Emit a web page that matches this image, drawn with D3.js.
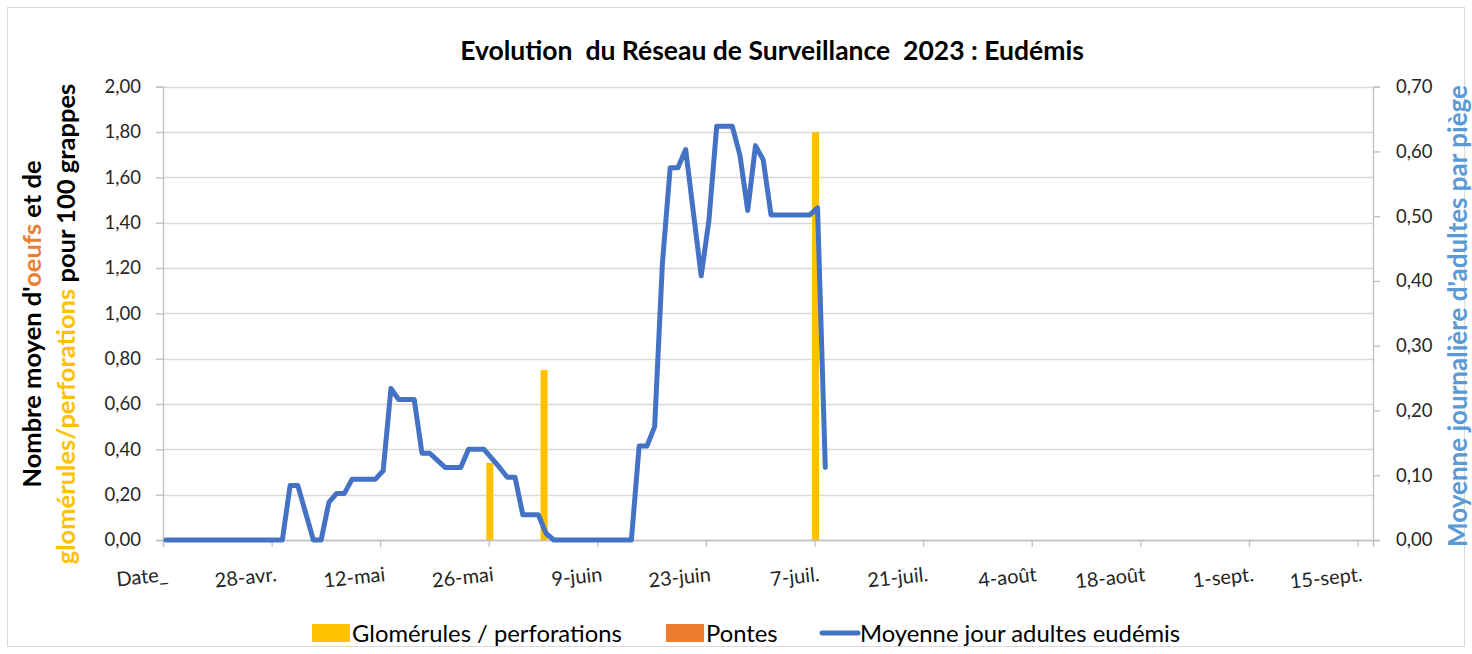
<!DOCTYPE html>
<html>
<head>
<meta charset="utf-8">
<script src="https://cdn.jsdelivr.net/npm/d3@7"></script>
<style>
  body { margin: 0; background: #fff; }
  text { font-family: Lato, "Open Sans", sans-serif; }
</style>
</head>
<body>
<div id="chart"></div>
<script>
// first category of the axis (label "Date_")
const startDate = new Date(2023, 3, 14);

// daily mean of adult moths per trap, from 14 avr. onward (right axis)
const adultValues = [
  0, 0, 0, 0, 0, 0, 0, 0, 0, 0, 0, 0, 0, 0, 0, 0,          // 14-29 avr.
  0.084, 0.084, 0.042, 0, 0, 0.058, 0.072, 0.072,            // 30 avr. - 7 mai
  0.094, 0.094, 0.094, 0.094, 0.107, 0.234, 0.217, 0.217,    // 8-15 mai
  0.217, 0.134, 0.134, 0.123, 0.112, 0.112, 0.112, 0.140,    // 16-23 mai
  0.140, 0.140, 0.126, 0.112, 0.097, 0.097, 0.039, 0.039,    // 24-31 mai
  0.039, 0.010, 0, 0, 0, 0, 0, 0,                            // 1-8 juin
  0, 0, 0, 0, 0, 0.145, 0.145, 0.175,                        // 9-16 juin
  0.427, 0.575, 0.575, 0.603, 0.505, 0.408, 0.494, 0.639,    // 17-24 juin
  0.639, 0.639, 0.594, 0.509, 0.609, 0.587, 0.502, 0.502,    // 25 juin - 2 juil.
  0.502, 0.502, 0.502, 0.502, 0.513, 0.112                   // 3-8 juil.
];

// glomérules / perforations per 100 bunches (left axis)
const glomDates = ['2023-05-26', '2023-06-02', '2023-07-07'];
const glomValues = [0.34, 0.75, 1.80];

// pontes: nothing recorded
const ponteDates = [];
const ponteValues = [];

const tickLabels = ['Date_', '28-avr.', '12-mai', '26-mai', '9-juin', '23-juin', '7-juil.',
  '21-juil.', '4-août', '18-août', '1-sept.', '15-sept.'];
const leftTicks = [0, 0.2, 0.4, 0.6, 0.8, 1.0, 1.2, 1.4, 1.6, 1.8, 2.0];
const rightTicks = [0, 0.1, 0.2, 0.3, 0.4, 0.5, 0.6, 0.7];

const W = 1472, H = 654;
const plot = {left: 163, right: 1373, top: 86.7, bottom: 540};
const gridColor = '#d9d9d9';
const yellow = '#FFC000', orange = '#ED7D31', blue = '#4472C4', lightBlue = '#5B9BD5';

const parseDate = d3.timeParse('%Y-%m-%d');
const frNum = d => d3.format('.2f')(d).replace('.', ',');

const adults = adultValues.map((v, i) => ({date: d3.timeDay.offset(startDate, i), value: v}));
const gloms = glomDates.map((d, i) => ({date: parseDate(d), value: glomValues[i]}));
const pontes = ponteDates.map((d, i) => ({date: parseDate(d), value: ponteValues[i]}));

const x = d3.scaleTime()
  .domain([startDate, d3.timeDay.offset(startDate, 156)])
  .range([plot.left, plot.right]);
const yLeft = d3.scaleLinear().domain([0, 2]).range([plot.bottom, plot.top]);
const yRight = d3.scaleLinear().domain([0, 0.7]).range([plot.bottom, plot.top]);

const svg = d3.select('#chart').append('svg')
  .attr('width', W)
  .attr('height', H);

// chart border
svg.append('rect')
  .attr('x', 7.5).attr('y', 7.5)
  .attr('width', 1457).attr('height', 639)
  .attr('fill', '#fff')
  .attr('stroke', '#d9d9d9');

// title
svg.append('text')
  .attr('x', 772).attr('y', 60)
  .attr('text-anchor', 'middle')
  .style('font-size', '26.5px').style('font-weight', 700)
  .attr('fill', '#000')
  .text('Evolution\u00a0 du Réseau de Surveillance\u00a0 2023 : Eudémis');

// horizontal grid (left axis)
svg.append('g')
  .selectAll('line')
  .data(leftTicks)
  .join('line')
  .attr('x1', plot.left).attr('x2', plot.right)
  .attr('y1', d => Math.round(yLeft(d)) + 0.5)
  .attr('y2', d => Math.round(yLeft(d)) + 0.5)
  .attr('stroke', gridColor).attr('stroke-width', 1.3);

// left axis
const leftAxis = svg.append('g')
  .attr('transform', `translate(${plot.left},0)`)
  .call(d3.axisLeft(yLeft).tickValues(leftTicks).tickFormat(frNum).tickSize(7).tickPadding(15));

// right axis
const rightAxis = svg.append('g')
  .attr('transform', `translate(${plot.right},0)`)
  .call(d3.axisRight(yRight).tickValues(rightTicks).tickFormat(frNum).tickSize(7).tickPadding(16));

[leftAxis, rightAxis].forEach(g => {
  g.selectAll('path, line').attr('stroke', '#bfbfbf').attr('stroke-width', 1.3);
  g.selectAll('text').style('font-size', '18.5px').attr('fill', '#262626').style('font-family', 'Lato, sans-serif');
});

// bottom axis
const tickDates = tickLabels.map((_, i) => d3.timeDay.offset(startDate, 14 * i));
const bottomAxis = svg.append('g')
  .attr('transform', `translate(0,${plot.bottom})`)
  .call(d3.axisBottom(x).tickValues(tickDates).tickSize(7).tickFormat((d, i) => tickLabels[i]));
bottomAxis.select('.domain').attr('stroke', '#bfbfbf').attr('stroke-width', 1.3);
bottomAxis.selectAll('line').attr('stroke', '#bfbfbf').attr('stroke-width', 1.3);
bottomAxis.selectAll('text')
  .style('font-size', '20px').style('font-family', 'Lato, sans-serif')
  .attr('fill', '#262626')
  .attr('text-anchor', 'end')
  .attr('dy', null)
  .attr('y', 0)
  .attr('transform', 'translate(5,41) rotate(-6)');

// bars: glomérules / perforations and pontes (left axis)
const barW = 7;
svg.append('g')
  .selectAll('rect')
  .data(gloms)
  .join('rect')
  .attr('x', d => x(d.date) + 1 - barW / 2)
  .attr('width', barW)
  .attr('y', d => yLeft(d.value))
  .attr('height', d => yLeft(0) - yLeft(d.value))
  .attr('fill', yellow);

svg.append('g')
  .selectAll('rect')
  .data(pontes)
  .join('rect')
  .attr('x', d => x(d.date) + 1 - barW / 2)
  .attr('width', barW)
  .attr('y', d => yLeft(d.value))
  .attr('height', d => yLeft(0) - yLeft(d.value))
  .attr('fill', orange);

// adults line (right axis)
const adultLine = d3.line()
  .x(d => x(d.date) + 3)
  .y(d => yRight(d.value));

svg.append('path')
  .datum(adults)
  .attr('d', adultLine)
  .attr('fill', 'none')
  .attr('stroke', blue)
  .attr('stroke-width', 5)
  .attr('stroke-linejoin', 'round')
  .attr('stroke-linecap', 'round');

// left axis title, two lines with coloured words
const leftTitle = svg.append('text')
  .attr('transform', 'translate(0,324) rotate(-90)')
  .attr('text-anchor', 'middle')
  .style('font-size', '25.5px').style('font-weight', 700);
const l1 = leftTitle.append('tspan').attr('x', 0).attr('y', 41);
l1.append('tspan').attr('fill', '#000').text("Nombre moyen d'");
l1.append('tspan').attr('fill', orange).text('oeufs');
l1.append('tspan').attr('fill', '#000').text(' et de');
const l2 = leftTitle.append('tspan').attr('x', 0).attr('y', 75);
l2.append('tspan').attr('fill', yellow).text('glomérules/perforations');
l2.append('tspan').attr('fill', '#000').text(' pour 100 grappes');

// right axis title
svg.append('text')
  .attr('transform', 'translate(1467,316) rotate(-90)')
  .attr('text-anchor', 'middle')
  .style('font-size', '26px').style('font-weight', 700)
  .attr('fill', lightBlue)
  .text("Moyenne journalière d'adultes par piège");

// legend
const legendItems = [
  {label: 'Glomérules / perforations', type: 'rect', color: yellow, x: 312},
  {label: 'Pontes', type: 'rect', color: orange, x: 666},
  {label: 'Moyenne jour adultes eudémis', type: 'line', color: blue, x: 820}
];
const legend = svg.append('g').attr('class', 'legend');
legendItems.forEach(item => {
  const g = legend.append('g').attr('transform', `translate(${item.x},633)`);
  if (item.type === 'rect') {
    g.append('rect').attr('x', 0).attr('y', -9).attr('width', 38).attr('height', 18).attr('fill', item.color);
  } else {
    g.append('line').attr('x1', 2).attr('x2', 38).attr('y1', 0).attr('y2', 0)
      .attr('stroke', item.color).attr('stroke-width', 5).attr('stroke-linecap', 'round');
  }
  g.append('text')
    .attr('x', 40).attr('y', 9)
    .style('font-size', '23.8px')
    .attr('fill', '#000')
    .text(item.label);
});
</script>
</body>
</html>
